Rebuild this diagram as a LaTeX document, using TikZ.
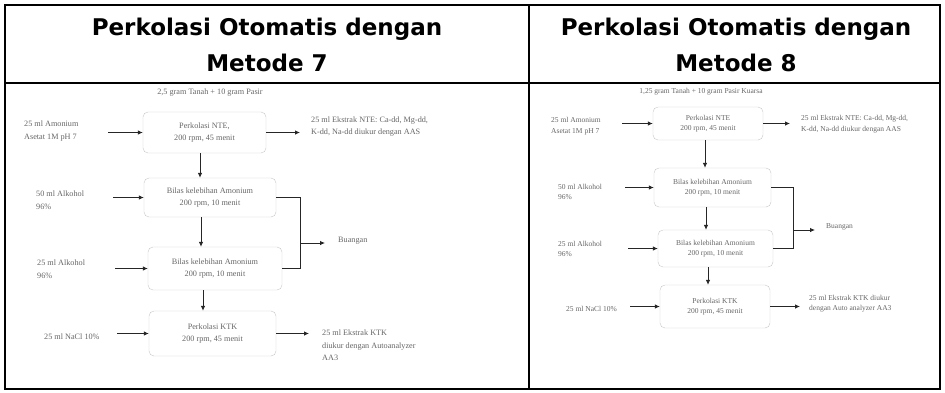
\documentclass[tikz,border=0pt]{standalone}
\usepackage{fontspec}
\setmainfont{Liberation Serif}
\newfontfamily\judulfont{DejaVu Sans}
\usetikzlibrary{arrows.meta}

\tikzset{
  judul/.style={font=\judulfont\bfseries\fontsize{23}{28}\selectfont, anchor=base},
  kotak/.style={draw=black!22, rounded corners=5pt, text=black!60, align=center, inner sep=0pt},
  ket/.style={text=black!60, align=left, anchor=west, inner sep=0pt},
  kecilA/.style={font=\fontsize{8.2}{12.5}\selectfont},
  kecilB/.style={font=\fontsize{7.5}{10.5}\selectfont},
  panah/.style={-{Latex[length=5pt,width=4.5pt]}, black!85, line width=0.8pt},
  garis/.style={black!85, line width=0.8pt}
}

\begin{document}
\begin{tikzpicture}[x=1pt,y=-1pt]
         \useasboundingbox (0,0) rectangle (945,392);
         \draw[line width=1.2pt] (5,5) rectangle (940,389);
         \draw[line width=1.6pt] (5,83) -- (940,83);
         \draw[line width=1.2pt] (529,5) -- (529,389);
         \node[judul] (j7a) at (267,35) {Perkolasi Otomatis dengan};
         \node[judul] (j7b) at (267,71) {Metode 7};
         \node[judul] (j8a) at (736,35) {Perkolasi Otomatis dengan};
         \node[judul] (j8b) at (736,71) {Metode 8};
         % metode 7
         \node[ket,kecilA,anchor=center] (bahan7) at (210,93) {2,5 gram Tanah + 10 gram Pasir};
         \node[kotak,kecilA,minimum width=123pt,minimum height=41pt] (p1) at (204.5,132.5) {Perkolasi NTE,\\200 rpm, 45 menit};
         \node[kotak,kecilA,minimum width=132pt,minimum height=39pt] (p2) at (210,197.5) {Bilas kelebihan Amonium\\200 rpm, 10 menit};
         \node[kotak,kecilA,minimum width=134pt,minimum height=43pt] (p3) at (215,268.5) {Bilas kelebihan Amonium\\200 rpm, 10 menit};
         \node[kotak,kecilA,minimum width=127pt,minimum height=45pt] (p4) at (212.5,333.5) {Perkolasi KTK\\200 rpm, 45 menit};
         \node[ket,kecilA] (in1) at (24,131) {25 ml Amonium\\Asetat 1M pH 7};
         \node[ket,kecilA] (in2) at (36,200) {50 ml Alkohol\\96\%};
         \node[ket,kecilA] (in3) at (37,269) {25 ml Alkohol\\96\%};
         \node[ket,kecilA] (in4) at (44,337) {25 ml NaCl 10\%};
         \node[ket,kecilA] (out1) at (311,126.5) {25 ml Ekstrak NTE: Ca-dd, Mg-dd,\\K-dd, Na-dd diukur dengan AAS};
         \node[ket,kecilA] (buang7) at (338,241) {Buangan};
         \node[ket,kecilA] (out4) at (322,345.5) {25 ml Ekstrak KTK\\diukur dengan Autoanalyzer\\AA3};
         \coordinate (s71) at (108,0); \coordinate (s72) at (113,0); \coordinate (s73) at (115,0); \coordinate (s74) at (117,0);
         \coordinate (d71) at (200,0); \coordinate (d72) at (201,0); \coordinate (d73) at (203,0);
         \coordinate (e71) at (300,0); \coordinate (e74) at (309,0);
         \coordinate (j7) at (300,243); \coordinate (b7) at (325,0);
         % metode 8
         \node[ket,kecilB,anchor=center] (bahan8) at (701,92) {1,25 gram Tanah + 10 gram Pasir Kuarsa};
         \node[kotak,kecilB,minimum width=110pt,minimum height=33pt] (q1) at (708,123.5) {Perkolasi NTE\\200 rpm, 45 menit};
         \node[kotak,kecilB,minimum width=117pt,minimum height=39pt] (q2) at (712.5,187.5) {Bilas kelebihan Amonium\\200 rpm, 10 menit};
         \node[kotak,kecilB,minimum width=115pt,minimum height=37pt] (q3) at (715.5,248.5) {Bilas kelebihan Amonium\\200 rpm, 10 menit};
         \node[kotak,kecilB,minimum width=110pt,minimum height=43pt] (q4) at (715,306.5) {Perkolasi KTK\\200 rpm, 45 menit};
         \node[ket,kecilB] (r1) at (551,126) {25 ml Amonium\\Asetat 1M pH 7};
         \node[ket,kecilB] (r2) at (558,192) {50 ml Alkohol\\96\%};
         \node[ket,kecilB] (r3) at (558,249) {25 ml Alkohol\\96\%};
         \node[ket,kecilB] (r4) at (566,309) {25 ml NaCl 10\%};
         \node[ket,kecilB] (ro1) at (801,124) {25 ml Ekstrak NTE: Ca-dd, Mg-dd,\\K-dd, Na-dd diukur dengan AAS};
         \node[ket,kecilB] (buang8) at (826,227) {Buangan};
         \node[ket,kecilB] (ro4) at (809,303.5) {25 ml Ekstrak KTK diukur\\dengan Auto analyzer AA3};
         \coordinate (s81) at (622,0); \coordinate (s82) at (625,0); \coordinate (s83) at (628,0); \coordinate (s84) at (630,0);
         \coordinate (d81) at (705,0); \coordinate (d82) at (706,0); \coordinate (d83) at (708,0);
         \coordinate (e81) at (790,0); \coordinate (e84) at (800,0);
         \coordinate (j8) at (793,230); \coordinate (b8) at (815,0);
         % panah
         \foreach \b/\s in {p1/s71,p2/s72,p3/s73,p4/s74,q1/s81,q2/s82,q3/s83,q4/s84} {\draw[panah] (\b.west -| \s) -- (\b.west);}
         \foreach \a/\b/\d in {p1/p2/d71,p2/p3/d72,p3/p4/d73,q1/q2/d81,q2/q3/d82,q3/q4/d83} {\draw[panah] (\a.south -| \d) -- (\b.north -| \d);}
         \foreach \a/\e in {p1/e71,p4/e74,q1/e81,q4/e84} {\draw[panah] (\a.east) -- (\a.east -| \e);}
         \draw[garis] (p2.east) -| (j7); \draw[garis] (p3.east) -| (j7);
         \draw[panah] (j7) -- (j7 -| b7);
         \draw[garis] (q2.east) -| (j8); \draw[garis] (q3.east) -| (j8);
         \draw[panah] (j8) -- (j8 -| b8);
      \end{tikzpicture}
\end{document}
